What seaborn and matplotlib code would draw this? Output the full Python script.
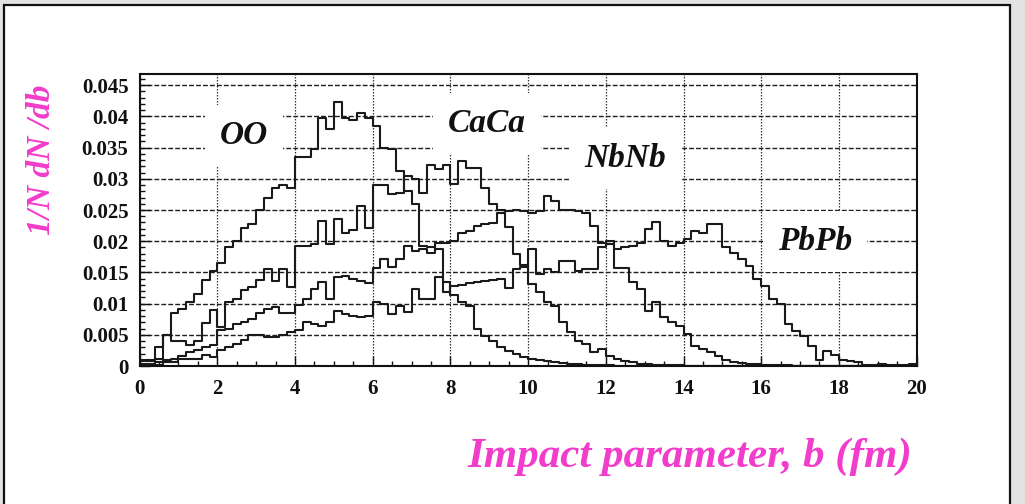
import numpy as np
import pandas as pd
import matplotlib
matplotlib.use("Agg")
import matplotlib.pyplot as plt
from matplotlib.patches import Rectangle
from matplotlib.ticker import MultipleLocator
import seaborn as sns

# Impact-parameter distributions, 0.2 fm bins from 0 to 20 fm
n_bins = 100
b_range = (0.0, 20.0)
bin_width = (b_range[1] - b_range[0]) / n_bins
b_centers = b_range[0] + bin_width * (np.arange(n_bins) + 0.5)

oo = [0.0010, 0.0010, 0.0031, 0.0050, 0.0085, 0.0092, 0.0102, 0.0115, 0.0138, 0.0152,
      0.0165, 0.0190, 0.0200, 0.0221, 0.0227, 0.0250, 0.0270, 0.0285, 0.0290, 0.0285,
      0.0335, 0.0335, 0.0347, 0.0398, 0.0380, 0.0423, 0.0398, 0.0395, 0.0405, 0.0398,
      0.0384, 0.0350, 0.0348, 0.0313, 0.0280, 0.0259, 0.0192, 0.0190, 0.0187, 0.0135,
      0.0113, 0.0102, 0.0096, 0.0060, 0.0048, 0.0040, 0.0030, 0.0024, 0.0019, 0.0015,
      0.0012, 0.0010, 0.0008, 0.0006, 0.0005, 0.0004, 0.0003, 0.0002, 0.0002, 0.0001,
      0.0001]

caca = [0.0008, 0.0008, 0.0012, 0.0050, 0.0040, 0.0040, 0.0033, 0.0040, 0.0069, 0.0090,
        0.0063, 0.0103, 0.0108, 0.0122, 0.0127, 0.0138, 0.0155, 0.0137, 0.0155, 0.0126,
        0.0192, 0.0192, 0.0195, 0.0232, 0.0195, 0.0235, 0.0213, 0.0218, 0.0256, 0.0221,
        0.0290, 0.0290, 0.0275, 0.0278, 0.0305, 0.0300, 0.0278, 0.0322, 0.0315, 0.0322,
        0.0292, 0.0328, 0.0318, 0.0318, 0.0285, 0.0260, 0.0250, 0.0222, 0.0180, 0.0162,
        0.0131, 0.0118, 0.0102, 0.0096, 0.0070, 0.0054, 0.0040, 0.0035, 0.0022, 0.0027,
        0.0016, 0.0011, 0.0008, 0.0006, 0.0004, 0.0003, 0.0002, 0.0002, 0.0001, 0.0001]

nbnb = [0.0003, 0.0004, 0.0006, 0.0009, 0.0012, 0.0016, 0.0022, 0.0026, 0.0030, 0.0034,
        0.0058, 0.0060, 0.0068, 0.0071, 0.0076, 0.0085, 0.0092, 0.0095, 0.0085, 0.0085,
        0.0098, 0.0107, 0.0123, 0.0134, 0.0107, 0.0142, 0.0144, 0.0140, 0.0136, 0.0133,
        0.0157, 0.0171, 0.0158, 0.0171, 0.0192, 0.0184, 0.0187, 0.0181, 0.0197, 0.0197,
        0.0200, 0.0213, 0.0216, 0.0224, 0.0227, 0.0229, 0.0245, 0.0248, 0.0250, 0.0248,
        0.0245, 0.0248, 0.0272, 0.0264, 0.0250, 0.0250, 0.0248, 0.0245, 0.0224, 0.0197,
        0.0195, 0.0157, 0.0157, 0.0134, 0.0123, 0.0088, 0.0102, 0.0078, 0.0070, 0.0064,
        0.0052, 0.0032, 0.0027, 0.0022, 0.0016, 0.0009, 0.0007, 0.0005, 0.0004, 0.0003,
        0.0002, 0.0002, 0.0001, 0.0001]

pbpb = [0.0002, 0.0002, 0.0002, 0.0007, 0.0007, 0.0012, 0.0012, 0.0012, 0.0018, 0.0015,
        0.0026, 0.0031, 0.0036, 0.0042, 0.0050, 0.0050, 0.0047, 0.0047, 0.0050, 0.0055,
        0.0058, 0.0070, 0.0067, 0.0064, 0.0070, 0.0088, 0.0083, 0.0080, 0.0079, 0.0080,
        0.0102, 0.0099, 0.0083, 0.0096, 0.0086, 0.0123, 0.0108, 0.0108, 0.0142, 0.0118,
        0.0128, 0.0130, 0.0133, 0.0134, 0.0136, 0.0138, 0.0140, 0.0125, 0.0155, 0.0158,
        0.0187, 0.0148, 0.0155, 0.0150, 0.0168, 0.0168, 0.0152, 0.0155, 0.0155, 0.0190,
        0.0200, 0.0187, 0.0190, 0.0192, 0.0197, 0.0219, 0.0230, 0.0200, 0.0192, 0.0197,
        0.0203, 0.0216, 0.0213, 0.0227, 0.0228, 0.0190, 0.0181, 0.0171, 0.0160, 0.0139,
        0.0128, 0.0107, 0.0099, 0.0067, 0.0056, 0.0048, 0.0032, 0.0010, 0.0024, 0.0017,
        0.0010, 0.0008, 0.0006, 0.0002, 0.0002, 0.0003, 0.0002, 0.0001, 0.0001, 0.0003]

systems = ["OO", "CaCa", "NbNb", "PbPb"]
label_b = [2.69, 8.94, 12.5, 17.38]
label_y = [0.0370, 0.0388, 0.0333, 0.0199]

x_ticks = list(range(0, 21, 2))
y_ticks = [0, 0.005, 0.01, 0.015, 0.02, 0.025, 0.03, 0.035, 0.04, 0.045]
y_tick_labels = ["0", "0.005", "0.01", "0.015", "0.02", "0.025", "0.03", "0.035", "0.04", "0.045"]


def full_length(values):
    return list(values) + [0.0] * (n_bins - len(values))


df = pd.concat(
    [pd.DataFrame({"b": b_centers, "dNdb": full_length(v), "system": s})
     for s, v in zip(systems, [oo, caca, nbnb, pbpb])],
    ignore_index=True,
)

sns.set_theme(style="ticks")
plt.rcParams["font.family"] = ["Liberation Serif", "DejaVu Serif"]
plt.rcParams["font.weight"] = "bold"
plt.rcParams["axes.axisbelow"] = True

W, H = 1025, 504
fig = plt.figure(figsize=(W / 100, H / 100), dpi=100, facecolor="#e3e3e3")
fig.add_artist(Rectangle((4 / W, -0.02), 1006 / W, 1 - 5 / H + 0.02,
                         transform=fig.transFigure, facecolor="white",
                         edgecolor="#111111", linewidth=1.6, zorder=0))

ax = fig.add_axes([139.6 / W, 1 - 366 / H, 777 / W, 292 / H])

sns.histplot(data=df, x="b", weights="dNdb", hue="system", hue_order=systems,
             bins=n_bins, binrange=b_range, element="step", fill=False,
             palette=["#1a1a1a"] * 4, linewidth=1.5, legend=False, ax=ax)

ax.set_xlim(0, 20)
ax.set_ylim(0, 0.0468)
ax.set_xlabel("")
ax.set_ylabel("")
ax.set_xticks(x_ticks)
ax.set_yticks(y_ticks, labels=y_tick_labels)
ax.xaxis.set_minor_locator(MultipleLocator(0.5))
ax.yaxis.set_minor_locator(MultipleLocator(0.001))
ax.tick_params(which="both", direction="in", top=False, right=False,
               color="#111111", width=1.0)
ax.tick_params(which="major", length=7, labelsize=15, labelcolor="#111111")
ax.tick_params(which="minor", length=3.5)
ax.tick_params(axis="x", which="major", pad=9)
ax.tick_params(axis="y", which="major", pad=8)

ax.grid(axis="y", which="major", color="#1e1e1e", linestyle=(0, (3.5, 1.5)), linewidth=1.0)
ax.grid(axis="x", which="major", color="#333333", linestyle=(0, (1.2, 1.2)), linewidth=0.9)

for side in ["left", "right", "top", "bottom"]:
    ax.spines[side].set_visible(True)
    ax.spines[side].set_color("#111111")
    ax.spines[side].set_linewidth(1.5)

for name, xb, yv in zip(systems, label_b, label_y):
    ax.text(xb, yv, name, ha="center", va="center", fontsize=24,
            fontweight="bold", fontstyle="italic", color="#111111", zorder=4,
            bbox=dict(boxstyle="square,pad=0.45", facecolor="white", edgecolor="none"))

magenta = "#f23ccb"
fig.text(912 / W, 1 - 467 / H, "Impact parameter, b (fm)", ha="right", va="baseline",
         fontsize=31, fontweight="bold", fontstyle="italic", color=magenta)
fig.text(42 / W, 1 - 160 / H, "1/N dN /db", ha="center", va="center", rotation=90,
         fontsize=24, fontweight="bold", fontstyle="italic", color=magenta)

fig.savefig("out.png", dpi=100, facecolor=fig.get_facecolor())
